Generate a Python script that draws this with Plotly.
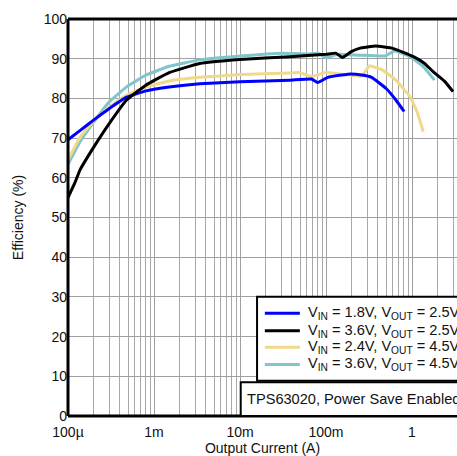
import numpy as np
import plotly.graph_objects as go

# ---- data ----
blue_x = [1e-4, 1.4e-4, 2e-4, 3e-4, 4.8e-4, 8.1e-4, 1.5e-3, 3.4e-3, 1e-2, 3.8e-2, 6.8e-2, 8e-2, 1.05e-1, 1.8e-1, 2.6e-1, 3.4e-1, 5e-1, 6.5e-1, 8.1e-1]
blue_y = [69.6, 72.0, 74.6, 77.4, 80.3, 81.9, 82.9, 83.7, 84.2, 84.6, 84.9, 84.0, 85.3, 86.1, 85.9, 85.3, 82.5, 79.6, 76.7]

black_x = [1e-4, 1.2e-4, 1.38e-4, 2e-4, 3e-4, 4.8e-4, 8.1e-4, 1.5e-3, 3.4e-3, 1e-2, 3.8e-2, 1e-1, 1.3e-1, 1.55e-1, 1.97e-1, 2.44e-1, 3.8e-1, 6e-1, 1.04, 1.4, 1.77, 2.4, 3.0]
black_y = [55.0, 58.7, 62.0, 67.8, 73.6, 79.6, 83.4, 86.5, 88.8, 89.8, 90.5, 91.1, 91.4, 90.3, 91.8, 92.6, 93.2, 92.6, 90.5, 88.8, 86.7, 84.3, 81.7]

yellow_x = [1e-4, 1.38e-4, 2e-4, 3e-4, 4.8e-4, 8.1e-4, 1.5e-3, 3.4e-3, 1e-2, 3.8e-2, 4.9e-2, 6.8e-2, 9.8e-2, 1.55e-1, 2.6e-1, 3.2e-1, 4.5e-1, 6.5e-1, 9.5e-1, 1.15, 1.35]
yellow_y = [64.5, 70.2, 74.4, 77.8, 80.8, 82.9, 84.4, 85.3, 86.0, 86.4, 86.5, 85.5, 86.5, 86.1, 85.6, 88.2, 87.2, 84.6, 80.4, 76.5, 71.6]

cyan_x = [1e-4, 1.38e-4, 2e-4, 3e-4, 4.8e-4, 8.1e-4, 1.5e-3, 3.4e-3, 1e-2, 3.1e-2, 6e-2, 8.1e-2, 1e-1, 1.37e-1, 2.4e-1, 4.9e-1, 6.3e-1, 9.5e-1, 1.35, 1.83]
cyan_y = [63.4, 69.1, 74.1, 79.1, 82.9, 85.9, 88.1, 89.7, 90.7, 91.4, 91.2, 91.4, 90.3, 91.1, 90.9, 90.7, 92.0, 90.5, 88.0, 84.6]

series_names = ["V<sub>IN</sub> = 1.8V, V<sub>OUT</sub> = 2.5V",
                "V<sub>IN</sub> = 3.6V, V<sub>OUT</sub> = 2.5V",
                "V<sub>IN</sub> = 2.4V, V<sub>OUT</sub> = 4.5V",
                "V<sub>IN</sub> = 3.6V, V<sub>OUT</sub> = 4.5V"]
series_colors = ["#0000ff", "#000000", "#f0d98a", "#7fc5cc"]

x_major_vals = [1e-4, 1e-3, 1e-2, 1e-1, 1]
x_major_text = ["100\u00b5", "1m", "10m", "100m", "1"]
y_tick_vals = list(range(0, 101, 10))

# ---- figure ----
fig = go.Figure()
data = [(blue_x, blue_y), (black_x, black_y), (yellow_x, yellow_y), (cyan_x, cyan_y)]
order = [3, 2, 0, 1]
for i in order:
    xs, ys = data[i]
    fig.add_trace(go.Scatter(x=xs, y=ys, mode="lines", name=series_names[i],
                             line=dict(color=series_colors[i], width=3, shape="spline", smoothing=0.3),
                             showlegend=False))

minor_vals = [m * 10.0 ** d for d in range(-4, 1) for m in range(2, 10)]

font = "Liberation Sans, Arial, sans-serif"
fig.update_layout(
    width=457, height=456,
    margin=dict(l=68, r=0, t=19, b=40),
    paper_bgcolor="white", plot_bgcolor="white",
    font=dict(family=font, size=14, color="#111"),
    xaxis=dict(type="log", range=[-4, (457 - 68) / 86.0 - 4],
               tickvals=x_major_vals, ticktext=x_major_text, showgrid=True, gridcolor="#a0a0a0",
               gridwidth=1, ticks="", zeroline=False, showline=False, automargin=False,
               ticklabelstandoff=6,
               minor=dict(tickvals=minor_vals, showgrid=True, gridcolor="#a8a8a8", gridwidth=1, ticks=""),
               title=dict(text="Output Current (A)", standoff=2, font=dict(size=14)),
               tickfont=dict(size=14)),
    yaxis=dict(range=[0, 100], tickvals=y_tick_vals, showgrid=True, gridcolor="#a0a0a0",
               gridwidth=1, ticks="", zeroline=False, showline=False, automargin=False,
               title=dict(text="Efficiency (%)", standoff=16, font=dict(size=14)),
               tickfont=dict(size=14)),
)

# frame (left, top, bottom; right side clipped)
fig.add_shape(type="line", xref="paper", yref="paper", x0=0, x1=0, y0=0, y1=1, line=dict(color="black", width=3))
fig.add_shape(type="line", xref="paper", yref="paper", x0=0, x1=1.1, y0=1, y1=1, line=dict(color="black", width=3))
fig.add_shape(type="line", xref="paper", yref="paper", x0=0, x1=1.1, y0=0, y1=0, line=dict(color="black", width=3))

# legend boxes
fig.add_shape(type="rect", xref="paper", yref="paper", x0=0.486, x1=1.1, y0=0.089, y1=0.3005,
              fillcolor="white", line=dict(color="black", width=2))
fig.add_shape(type="rect", xref="paper", yref="paper", x0=0.444, x1=1.1, y0=0.0, y1=0.085,
              fillcolor="white", line=dict(color="black", width=2))

leg_y = [0.2587, 0.2149, 0.173, 0.130]
for i in range(4):
    fig.add_shape(type="line", xref="paper", yref="paper", x0=0.506, x1=0.596, y0=leg_y[i], y1=leg_y[i],
                  line=dict(color=series_colors[i], width=3))
    fig.add_annotation(xref="paper", yref="paper", x=0.611, y=leg_y[i], text=series_names[i],
                       showarrow=False, xanchor="left", yanchor="middle", font=dict(size=14.6, family=font))

fig.add_annotation(xref="paper", yref="paper", x=0.455, y=0.043, text="TPS63020, Power Save Enabled",
                   showarrow=False, xanchor="left", yanchor="middle", font=dict(size=14.6, family=font))

fig.write_html("out.html", config={"displayModeBar": False},
               post_script="document.body.style.margin='0';document.body.style.overflow='hidden';")
